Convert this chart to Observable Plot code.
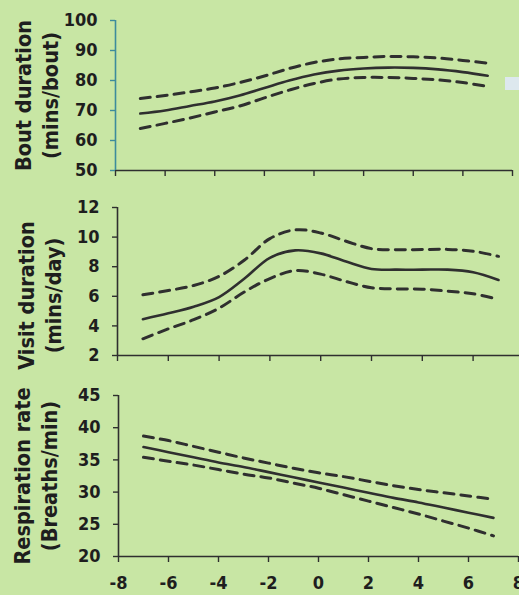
<!DOCTYPE html>
<html>
<head>
<meta charset="utf-8">
<script src="https://cdn.jsdelivr.net/npm/d3@7"></script>
<script src="https://cdn.jsdelivr.net/npm/@observablehq/plot@0.6"></script>
<style>
  html, body { margin: 0; padding: 0; background: #c8e6a4; width: 519px; height: 595px; overflow: hidden; }
  #chart { position: relative; width: 519px; height: 595px; }
  #chart svg { display: block; }
  #legendStub { position: absolute; left: 505px; top: 77px; width: 14px; height: 13px; background: #dde8ee; }
</style>
</head>
<body>
<div id="chart"></div>
<script>
// ---- data ----
const xs = [-7, -6, -5, -4, -3, -2, -1, 0, 1, 2, 3, 4, 5, 6, 7];
const xTicks = [-8, -6, -4, -2, 0, 2, 4, 6, 8];

const boutMean  = [69, 70, 71.5, 73, 75, 77.5, 80, 82, 83.3, 84, 84.3, 84.2, 83.7, 82.8, 81.6];
const boutUpper = [74, 75, 76.2, 77.5, 79.3, 81.5, 84, 86, 87.2, 87.7, 88, 87.9, 87.5, 86.7, 85.8];
const boutLower = [64, 65.7, 67.5, 69.5, 71.5, 74.2, 76.8, 79, 80.5, 81, 81, 80.7, 80.2, 79.3, 78];
const boutTicks = [50, 60, 70, 80, 90, 100];

const visitMean  = [4.45, 4.85, 5.3, 5.95, 7.2, 8.6, 9.1, 8.9, 8.35, 7.85, 7.8, 7.8, 7.8, 7.62, 7.1];
const visitUpper = [6.1, 6.39, 6.73, 7.35, 8.45, 9.9, 10.49, 10.28, 9.72, 9.22, 9.14, 9.16, 9.17, 9.05, 8.7];
const visitLower = [3.13, 3.8, 4.42, 5.2, 6.3, 7.2, 7.74, 7.5, 7.0, 6.58, 6.5, 6.48, 6.35, 6.17, 5.8];
const visitTicks = [2, 4, 6, 8, 10, 12];

const respMean  = [37, 36.2, 35.4, 34.6, 33.9, 33.1, 32.3, 31.5, 30.7, 29.9, 29.1, 28.4, 27.6, 26.8, 26.0];
const respUpper = [38.7, 38.0, 37.1, 36.2, 35.3, 34.5, 33.7, 33.0, 32.4, 31.7, 31.0, 30.4, 29.9, 29.4, 28.9];
const respLower = [35.4, 34.8, 34.2, 33.5, 32.8, 32.2, 31.4, 30.6, 29.6, 28.6, 27.6, 26.6, 25.5, 24.4, 23.2];
const respTicks = [20, 25, 30, 35, 40, 45];

const titles = ["Bout duration\n(mins/bout)", "Visit duration\n(mins/day)", "Respiration rate\n(Breaths/min)"];

// ---- drawing ----
const FONT = "'DejaVu Sans Condensed','DejaVu Sans',sans-serif";
const INK = "#2f2f2f";
const TEXT = "#1e1e1e";

function rows(mean, upper, lower) {
  return xs.map((x, i) => ({x, mean: mean[i], upper: upper[i], lower: lower[i]}));
}

function panel(cfg) {
  const data = rows(cfg.mean, cfg.upper, cfg.lower);
  const [y0] = cfg.yDomain;
  return Plot.plot({
    width: 519,
    height: cfg.height,
    marginLeft: cfg.xRange[0],
    marginRight: cfg.marginRight,
    marginTop: cfg.marginTop,
    marginBottom: cfg.marginBottom,
    style: {background: "transparent", fontFamily: FONT, fontStretch: "condensed", fontWeight: "bold", fontSize: "18px", color: TEXT},
    x: {domain: [-8, 8], range: cfg.xRange, axis: null},
    y: {domain: cfg.yDomain, range: [cfg.height - cfg.marginBottom, cfg.marginTop], axis: null},
    marks: [
      Plot.ruleY([y0], {stroke: INK, strokeWidth: 1.6}),
      Plot.ruleX([-8], {stroke: cfg.yAxisColor, strokeWidth: 1.6}),
      Plot.axisX({ticks: xTicks, tickSize: 6, tickPadding: 14, stroke: INK, fill: TEXT, strokeWidth: 1.4,
                  tickFormat: cfg.xLabels ? (d => String(d)) : (() => ""), label: null}),
      Plot.axisY({ticks: cfg.yTicks, tickSize: 5, tickPadding: 13, stroke: cfg.yAxisColor, fill: TEXT, strokeWidth: 1.4,
                  tickFormat: d => String(d), label: null}),
      Plot.line(data, {x: "x", y: "upper", stroke: INK, strokeWidth: 3, strokeDasharray: "10,7", curve: "catmull-rom"}),
      Plot.line(data, {x: "x", y: "lower", stroke: INK, strokeWidth: 3, strokeDasharray: "10,7", curve: "catmull-rom"}),
      Plot.line(data, {x: "x", y: "mean", stroke: INK, strokeWidth: 2.6, curve: "catmull-rom"}),
      Plot.text([cfg.title], {text: d => d, frameAnchor: "left", textAnchor: "middle", rotate: -90,
                              dx: cfg.titleX - cfg.xRange[0], dy: cfg.titleDy,
                              lineHeight: 1.27, fontSize: 21.5, fill: TEXT})
    ]
  });
}

const chart = document.getElementById("chart");
chart.append(panel({
  height: 190, marginTop: 20, marginBottom: 20, marginRight: 7,
  xRange: [115, 512], yDomain: [50, 100], yTicks: boutTicks,
  mean: boutMean, upper: boutUpper, lower: boutLower,
  yAxisColor: "#3d8c9c", xLabels: false, title: titles[0], titleX: 35, titleDy: 0
}));
chart.append(panel({
  height: 185, marginTop: 17, marginBottom: 20, marginRight: 0,
  xRange: [117, 523.4], yDomain: [2, 12], yTicks: visitTicks,
  mean: visitMean, upper: visitUpper, lower: visitLower,
  yAxisColor: INK, xLabels: false, title: titles[1], titleX: 38, titleDy: 14
}));
chart.append(panel({
  height: 220, marginTop: 20, marginBottom: 39, marginRight: 1,
  xRange: [118, 518], yDomain: [20, 45], yTicks: respTicks,
  mean: respMean, upper: respUpper, lower: respLower,
  yAxisColor: INK, xLabels: true, title: titles[2], titleX: 34, titleDy: 0
}));
const stub = document.createElement("div");
stub.id = "legendStub";
chart.append(stub);
</script>
</body>
</html>
